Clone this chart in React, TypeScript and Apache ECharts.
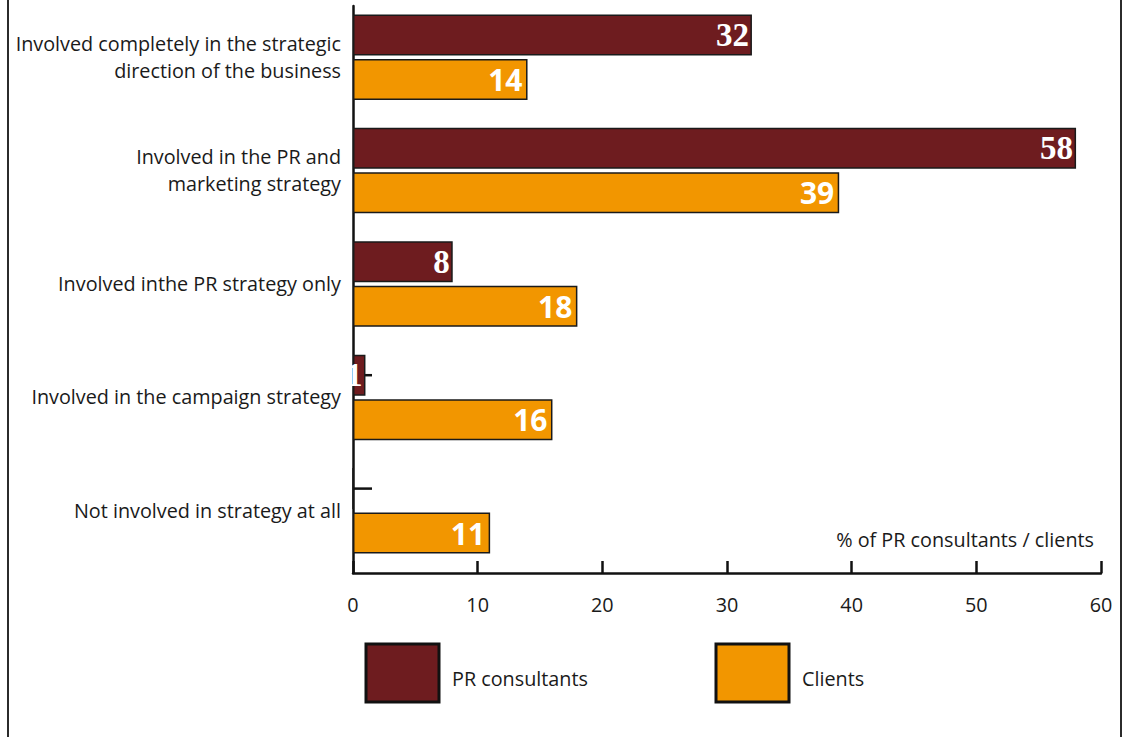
import React, { useEffect, useRef } from "react";
import * as echarts from "echarts";

const categories = [
  "Involved completely in the strategic\ndirection of the business",
  "Involved in the PR and\nmarketing strategy",
  "Involved inthe PR strategy only",
  "Involved in the campaign strategy",
  "Not involved in strategy at all",
];
const prConsultants = [32, 58, 8, 1, 0];
const clients = [14, 39, 18, 16, 11];
const xMin = 0;
const xMax = 60;
const xInterval = 10;
const axisTitle = "% of PR consultants / clients";
const seriesNames = ["PR consultants", "Clients"];

const PR_COLOR = "#6e1c1f";
const CL_COLOR = "#f29600";
const SANS = "'Open Sans', 'Noto Sans', sans-serif";
const SERIF = "'Liberation Serif', 'DejaVu Serif', serif";
const FS = 19.8;
const TXT = "#1a1a1a";

export default function App() {
  const ref = useRef<HTMLDivElement>(null);
  useEffect(() => {
    if (!ref.current) return;
    const chart = echarts.init(ref.current, undefined, { renderer: "svg" });
    const barWidth = 41;
    const barGap = "8.5%";
    const prOffset = -27.7;
    const legendBase = {
      icon: "rect",
      itemWidth: 73,
      itemHeight: 58,
      padding: 0,
      selectedMode: false,
      itemStyle: { borderColor: "#111", borderWidth: 3 },
      formatter: (name: string) => "{s| }\n{t|" + name + "}",
      textStyle: {
        fontFamily: SANS,
        fontSize: FS,
        color: TXT,
        padding: [0, 0, 0, 8],
        rich: {
          s: { fontSize: 1, lineHeight: 10 },
          t: { fontFamily: SANS, fontSize: FS, color: TXT, lineHeight: 27 },
        },
      },
    };
    chart.setOption({
      animation: false,
      backgroundColor: "#ffffff",
      grid: { left: 353, right: 34, top: 6, bottom: 164, containLabel: false },
      legend: [
        { ...legendBase, data: [seriesNames[0]], left: 364.5, top: 642.5 },
        { ...legendBase, data: [seriesNames[1]], left: 714.5, top: 642.5 },
      ],
      xAxis: {
        type: "value",
        min: xMin,
        max: xMax,
        interval: xInterval,
        name: axisTitle,
        nameLocation: "end",
        nameGap: -7,
        nameTextStyle: {
          fontFamily: SANS,
          fontSize: FS,
          color: TXT,
          align: "right",
          verticalAlign: "bottom",
          padding: [0, 0, 24, 0],
        },
        axisLine: { show: true, lineStyle: { color: "#111", width: 2.5 } },
        axisTick: { show: true, inside: true, length: 12, lineStyle: { color: "#111", width: 2.5 } },
        axisLabel: { fontFamily: SANS, fontSize: FS, color: TXT, margin: 21 },
        splitLine: { show: false },
      },
      yAxis: {
        type: "category",
        inverse: true,
        data: categories,
        axisLine: { show: true, lineStyle: { color: "#111", width: 2.5 } },
        axisTick: { show: false },
        axisLabel: {
          fontFamily: SANS,
          fontSize: FS,
          color: TXT,
          margin: 12,
          align: "right",
          formatter: (v: string) =>
            v
              .split("\n")
              .map((l) => "{a|" + l + "}")
              .join("\n") + "\n{s| }",
          rich: {
            a: { fontFamily: SANS, fontSize: FS, color: TXT, lineHeight: 27, align: "right" },
            s: { fontSize: 1, lineHeight: 12 },
          },
        },
        splitLine: { show: false },
      },
      series: [
        {
          type: "custom",
          name: "ticks",
          z: 1,
          silent: true,
          data: categories.map((_, i) => [0, i]),
          encode: { x: 0, y: 1 },
          renderItem: (params: any, api: any) => {
            const p = api.coord([0, api.value(1)]);
            return {
              type: "line",
              shape: { x1: p[0], y1: p[1] + prOffset, x2: p[0] + 19, y2: p[1] + prOffset },
              style: { stroke: "#111", lineWidth: 2.5 },
            };
          },
        },
        {
          type: "bar",
          name: seriesNames[0],
          z: 3,
          data: prConsultants,
          barWidth,
          barGap,
          itemStyle: { color: PR_COLOR, borderColor: "#1a1a1a", borderWidth: 1.5 },
          label: {
            show: true,
            position: "insideRight",
            distance: 3,
            color: "#ffffff",
            fontFamily: SERIF,
            fontWeight: "bold",
            fontSize: 33,
            formatter: (p: any) => (p.value ? String(p.value) : ""),
          },
        },
        {
          type: "bar",
          name: seriesNames[1],
          z: 3,
          data: clients,
          barWidth,
          barGap,
          itemStyle: { color: CL_COLOR, borderColor: "#1a1a1a", borderWidth: 1.5 },
          label: {
            show: true,
            position: "insideRight",
            distance: 5,
            color: "#ffffff",
            fontFamily: SANS,
            fontWeight: "bold",
            fontSize: 30,
          },
        },
        {
          type: "bar",
          name: "spacer",
          silent: true,
          data: categories.map(() => null),
          barWidth: 7.5,
          barGap,
          itemStyle: { color: "transparent" },
        },
      ],
    });
    return () => chart.dispose();
  }, []);

  return (
    <div style={{ position: "absolute", left: 0, top: 0, width: 1135, height: 737, background: "#fff" }}>
      <div ref={ref} style={{ position: "absolute", left: 0, top: 0, width: 1135, height: 737 }} />
      <div
        style={{
          position: "absolute",
          left: 7,
          top: 0,
          width: 1111,
          height: 737,
          borderLeft: "2px solid #2b2b2b",
          borderRight: "2px solid #2b2b2b",
          pointerEvents: "none",
        }}
      />
    </div>
  );
}
